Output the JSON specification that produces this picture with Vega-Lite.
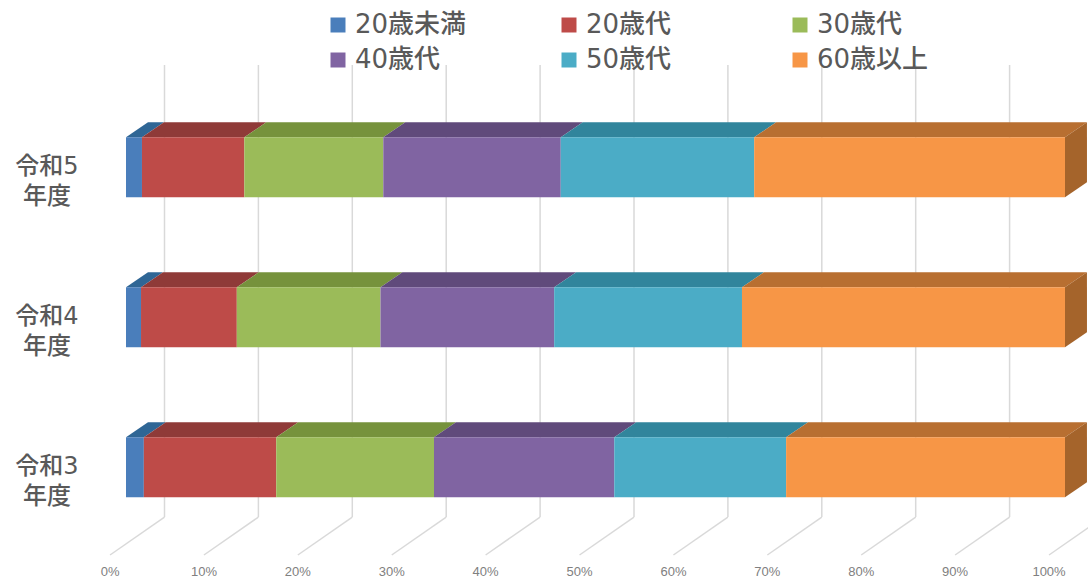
{"$schema":"https://vega.github.io/schema/vega-lite/v6.json","width":1088,"height":580,"autosize":{"type":"fit","contains":"padding"},"padding":0,"background":"white","view":{"stroke":null},
"datasets":{
"grid":[{"pct":"0%","floorX":-1.7,"backX":4.1},{"pct":"10%","floorX":8.3,"backX":14.1},{"pct":"20%","floorX":18.3,"backX":24.1},{"pct":"30%","floorX":28.3,"backX":34.1},{"pct":"40%","floorX":38.3,"backX":44.1},{"pct":"50%","floorX":48.3,"backX":54.1},{"pct":"60%","floorX":58.3,"backX":64.1},{"pct":"70%","floorX":68.3,"backX":74.1},{"pct":"80%","floorX":78.3,"backX":84.1},{"pct":"90%","floorX":88.3,"backX":94.1},{"pct":"100%","floorX":98.3,"backX":104.1}],
"years":[{"label":"令和5\n年度","v":2},{"label":"令和4\n年度","v":1},{"label":"令和3\n年度","v":0}],
"front":[
{"year":"令和5","age":"20歳未満","start":0,"end":1.7,"bottom":1.8,"top":2.2},{"year":"令和5","age":"20歳代","start":1.7,"end":12.6,"bottom":1.8,"top":2.2},{"year":"令和5","age":"30歳代","start":12.6,"end":27.4,"bottom":1.8,"top":2.2},{"year":"令和5","age":"40歳代","start":27.4,"end":46.3,"bottom":1.8,"top":2.2},{"year":"令和5","age":"50歳代","start":46.3,"end":66.9,"bottom":1.8,"top":2.2},{"year":"令和5","age":"60歳以上","start":66.9,"end":100,"bottom":1.8,"top":2.2},
{"year":"令和4","age":"20歳未満","start":0,"end":1.6,"bottom":0.8,"top":1.2},{"year":"令和4","age":"20歳代","start":1.6,"end":11.8,"bottom":0.8,"top":1.2},{"year":"令和4","age":"30歳代","start":11.8,"end":27.1,"bottom":0.8,"top":1.2},{"year":"令和4","age":"40歳代","start":27.1,"end":45.6,"bottom":0.8,"top":1.2},{"year":"令和4","age":"50歳代","start":45.6,"end":65.6,"bottom":0.8,"top":1.2},{"year":"令和4","age":"60歳以上","start":65.6,"end":100,"bottom":0.8,"top":1.2},
{"year":"令和3","age":"20歳未満","start":0,"end":1.9,"bottom":-0.2,"top":0.2},{"year":"令和3","age":"20歳代","start":1.9,"end":16,"bottom":-0.2,"top":0.2},{"year":"令和3","age":"30歳代","start":16,"end":32.8,"bottom":-0.2,"top":0.2},{"year":"令和3","age":"40歳代","start":32.8,"end":52,"bottom":-0.2,"top":0.2},{"year":"令和3","age":"50歳代","start":52,"end":70.3,"bottom":-0.2,"top":0.2},{"year":"令和3","age":"60歳以上","start":70.3,"end":100,"bottom":-0.2,"top":0.2}],
"topFace":[
{"year":"令和5","age":"20歳未満","start":0,"end":1.7,"y":2.2},{"year":"令和5","age":"20歳未満","start":2.34,"end":4.04,"y":2.3},
{"year":"令和5","age":"20歳代","start":1.7,"end":12.6,"y":2.2},{"year":"令和5","age":"20歳代","start":4.04,"end":14.94,"y":2.3},
{"year":"令和5","age":"30歳代","start":12.6,"end":27.4,"y":2.2},{"year":"令和5","age":"30歳代","start":14.94,"end":29.74,"y":2.3},
{"year":"令和5","age":"40歳代","start":27.4,"end":46.3,"y":2.2},{"year":"令和5","age":"40歳代","start":29.74,"end":48.64,"y":2.3},
{"year":"令和5","age":"50歳代","start":46.3,"end":66.9,"y":2.2},{"year":"令和5","age":"50歳代","start":48.64,"end":69.24,"y":2.3},
{"year":"令和5","age":"60歳以上","start":66.9,"end":100,"y":2.2},{"year":"令和5","age":"60歳以上","start":69.24,"end":102.34,"y":2.3},
{"year":"令和4","age":"20歳未満","start":0,"end":1.6,"y":1.2},{"year":"令和4","age":"20歳未満","start":2.34,"end":3.94,"y":1.3},
{"year":"令和4","age":"20歳代","start":1.6,"end":11.8,"y":1.2},{"year":"令和4","age":"20歳代","start":3.94,"end":14.14,"y":1.3},
{"year":"令和4","age":"30歳代","start":11.8,"end":27.1,"y":1.2},{"year":"令和4","age":"30歳代","start":14.14,"end":29.44,"y":1.3},
{"year":"令和4","age":"40歳代","start":27.1,"end":45.6,"y":1.2},{"year":"令和4","age":"40歳代","start":29.44,"end":47.94,"y":1.3},
{"year":"令和4","age":"50歳代","start":45.6,"end":65.6,"y":1.2},{"year":"令和4","age":"50歳代","start":47.94,"end":67.94,"y":1.3},
{"year":"令和4","age":"60歳以上","start":65.6,"end":100,"y":1.2},{"year":"令和4","age":"60歳以上","start":67.94,"end":102.34,"y":1.3},
{"year":"令和3","age":"20歳未満","start":0,"end":1.9,"y":0.2},{"year":"令和3","age":"20歳未満","start":2.34,"end":4.24,"y":0.3},
{"year":"令和3","age":"20歳代","start":1.9,"end":16,"y":0.2},{"year":"令和3","age":"20歳代","start":4.24,"end":18.34,"y":0.3},
{"year":"令和3","age":"30歳代","start":16,"end":32.8,"y":0.2},{"year":"令和3","age":"30歳代","start":18.34,"end":35.14,"y":0.3},
{"year":"令和3","age":"40歳代","start":32.8,"end":52,"y":0.2},{"year":"令和3","age":"40歳代","start":35.14,"end":54.34,"y":0.3},
{"year":"令和3","age":"50歳代","start":52,"end":70.3,"y":0.2},{"year":"令和3","age":"50歳代","start":54.34,"end":72.64,"y":0.3},
{"year":"令和3","age":"60歳以上","start":70.3,"end":100,"y":0.2},{"year":"令和3","age":"60歳以上","start":72.64,"end":102.34,"y":0.3}],
"side":[
{"year":"令和5","x":100,"lo":1.8,"hi":2.2},{"year":"令和5","x":102.34,"lo":1.9,"hi":2.3},
{"year":"令和4","x":100,"lo":0.8,"hi":1.2},{"year":"令和4","x":102.34,"lo":0.9,"hi":1.3},
{"year":"令和3","x":100,"lo":-0.2,"hi":0.2},{"year":"令和3","x":102.34,"lo":-0.1,"hi":0.3}]
},
"resolve":{"scale":{"color":"independent"}},
"layer":[
{"data":{"name":"grid"},"mark":{"type":"rule","color":"#d9d9d9","strokeWidth":1.5,"clip":true},
 "encoding":{"x":{"field":"backX","type":"quantitative","axis":null,"scale":{"domain":[-13.419,102.45],"nice":false,"zero":false}},"y":{"datum":2.682,"type":"quantitative","axis":null,"scale":{"domain":[-0.7517,3.115],"nice":false,"zero":false}},"y2":{"datum":-0.332}}},
{"data":{"name":"grid"},"mark":{"type":"rule","color":"#d9d9d9","strokeWidth":1.5,"clip":true},
 "encoding":{"x":{"field":"floorX","type":"quantitative"},"x2":{"field":"backX"},"y":{"datum":-0.585,"type":"quantitative"},"y2":{"datum":-0.332}}},
{"data":{"name":"grid"},"mark":{"type":"text","color":"#808080","fontSize":13,"font":"Liberation Sans","align":"center","baseline":"middle"},
 "encoding":{"x":{"field":"floorX","type":"quantitative"},"y":{"datum":-0.698,"type":"quantitative"},"text":{"field":"pct"}}},
{"data":{"name":"years"},"mark":{"type":"text","color":"#595959","fontSize":24,"font":"DejaVu Sans, Noto Sans CJK JP","fontWeight":500,"align":"center","baseline":"middle","lineBreak":"\n","lineHeight":30,"dx":-79},
 "encoding":{"x":{"datum":0,"type":"quantitative"},"y":{"field":"v","type":"quantitative"},"text":{"field":"label"}}},
{"data":{"name":"topFace"},"mark":{"type":"area","orient":"horizontal","clip":true},
 "encoding":{"y":{"field":"y","type":"quantitative"},"x":{"field":"start","type":"quantitative","stack":null},"x2":{"field":"end"},"detail":{"field":"year"},
 "color":{"field":"age","type":"nominal","legend":null,"scale":{"domain":["20歳未満","20歳代","30歳代","40歳代","50歳代","60歳以上"],"range":["#2f6695","#8f3a38","#76923c","#604a7b","#31859c","#b86f31"]}}}},
{"data":{"name":"side"},"mark":{"type":"area","orient":"vertical","color":"#a5642b"},
 "encoding":{"x":{"field":"x","type":"quantitative"},"y":{"field":"lo","type":"quantitative","stack":null},"y2":{"field":"hi"},"detail":{"field":"year"}}},
{"data":{"name":"front"},"mark":{"type":"rect"},
 "encoding":{"x":{"field":"start","type":"quantitative"},"x2":{"field":"end"},"y":{"field":"bottom","type":"quantitative"},"y2":{"field":"top"},
 "color":{"field":"age","type":"nominal","scale":{"domain":["20歳未満","20歳代","30歳代","40歳代","50歳代","60歳以上"],"range":["#4a7ebb","#be4b48","#9bbb59","#8064a2","#4bacc6","#f79646"]},
 "legend":{"title":null,"orient":"none","direction":"horizontal","legendX":325,"legendY":12,"columns":3,"gridAlign":"all","symbolType":"square","symbolSize":225,"symbolStrokeWidth":0,"labelFontSize":26,"labelFont":"DejaVu Sans, Noto Sans CJK JP","labelFontWeight":500,"labelColor":"#595959","labelOffset":4,"columnPadding":89,"rowPadding":9,"labelLimit":300}}}}
]}
